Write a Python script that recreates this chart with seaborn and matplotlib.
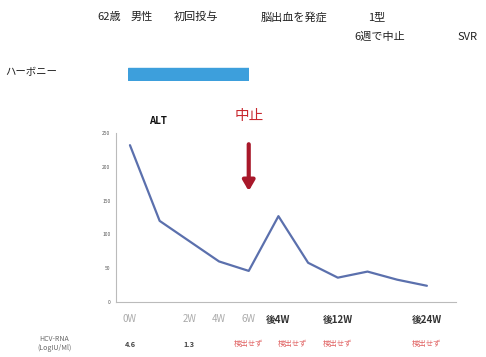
import pandas as pd
import matplotlib
matplotlib.use("Agg")
import matplotlib.pyplot as plt
import seaborn as sns

# ALT time course (one point per visit)
visits = ["0W", "1W", "2W", "4W", "6W", "後4W", "後8W", "後12W", "後16W", "後20W", "後24W"]
alt = [232, 120, 90, 60, 46, 127, 58, 36, 45, 33, 24]

# visits that get a label under the axis
tick_visits = ["0W", "2W", "4W", "6W", "後4W", "後12W", "後24W"]

# HCV-RNA row
hcv_visits = ["0W", "2W", "6W", "後4W", "後12W", "後24W"]
hcv_values = ["4.6", "1.3", "検出せず", "検出せず", "検出せず", "検出せず"]

# header pieces (text, left edge px)
header = [("62歳", 97), ("男性", 131), ("初回投与", 174), ("脳出血を発症", 261), ("1型", 368)]

sns.set_style("white")
plt.rcParams["font.family"] = ["Noto Sans CJK JP", "DejaVu Sans"]

df = pd.DataFrame({"pos": range(len(visits)), "visit": visits, "ALT": alt})
pos = dict(zip(visits, df["pos"]))

fig = plt.figure(figsize=(4.86, 3.57), dpi=100)
W, H = 486, 357

# header text
for txt, x in header:
    fig.text(x / W, 1 - 17 / H, txt, fontsize=8, ha="left", va="center", color="#222222")
fig.text(405 / W, 1 - 37 / H, "6週で中止", fontsize=8, ha="right", va="center", color="#222222")
fig.text(468 / W, 1 - 37 / H, "SVR", fontsize=8, ha="center", va="center", color="#222222")
fig.text(5 / W, 1 - 72 / H, "ハーボニー", fontsize=7.5, ha="left", va="center", color="#222222")

# treatment bar
bar_ax = fig.add_axes([128 / W, 1 - 81 / H, 121 / W, 14 / H])
bar_ax.axhspan(0, 1, color="#3d9fdc")
bar_ax.set_axis_off()

# main chart
ax = fig.add_axes([116 / W, 1 - 302 / H, 340 / W, 169 / H])
sns.lineplot(data=df, x="pos", y="ALT", ax=ax, color="#5b70ad", linewidth=1.6)
ax.set_xlim(-0.47, 10.98)
ax.set_ylim(0, 250)
ax.set_yticks([0, 50, 100, 150, 200, 250])
ax.tick_params(axis="y", labelsize=3.5, length=2, width=0.5, colors="#555555", pad=2)
ax.set_xticks([pos[v] for v in tick_visits])
ax.set_xticklabels(tick_visits)
ax.tick_params(axis="x", length=0, pad=9, labelsize=7)
for lab in ax.get_xticklabels():
    if lab.get_text().startswith("後"):
        lab.set_color("#333333")
        lab.set_fontweight("bold")
    else:
        lab.set_color("#aaaaaa")
ax.set_xlabel("")
ax.set_ylabel("")
for s in ["top", "right"]:
    ax.spines[s].set_visible(False)
ax.spines["left"].set_color("#bbbbbb")
ax.spines["bottom"].set_color("#bbbbbb")
ax.spines["left"].set_linewidth(0.8)
ax.spines["bottom"].set_linewidth(0.8)

# annotations
ax.text(pos["1W"] - 0.05, 1.07, "ALT", transform=ax.get_xaxis_transform(),
        fontsize=7, fontweight="bold", ha="center", va="center", color="#111111")
ax.text(pos["6W"], 1.1, "中止", transform=ax.get_xaxis_transform(),
        fontsize=10.5, ha="center", va="center", color="#c8282e")
ax.annotate("", xy=(pos["6W"], 0.64), xytext=(pos["6W"], 0.95),
            xycoords=ax.get_xaxis_transform(),
            arrowprops=dict(arrowstyle="-|>,head_width=0.35,head_length=0.6",
                            color="#a8182a", lw=3))

# HCV-RNA row
ax.text(-2.55, -0.245, "HCV-RNA\n(LogIU/Ml)", transform=ax.get_xaxis_transform(),
        fontsize=5, ha="center", va="center", color="#666666", linespacing=1.3)
for v, val in zip(hcv_visits, hcv_values):
    red = val == "検出せず"
    nudge = 10 if v == "後4W" else 0  # keep neighbouring labels apart
    ax.annotate(val, xy=(pos[v], -0.25), xycoords=ax.get_xaxis_transform(),
                xytext=(nudge, 0), textcoords="offset points",
                fontsize=5.3, ha="center", va="center",
                color="#e06060" if red else "#444444",
                fontweight="normal" if red else "bold", annotation_clip=False)

fig.savefig("out.png", dpi=100)
